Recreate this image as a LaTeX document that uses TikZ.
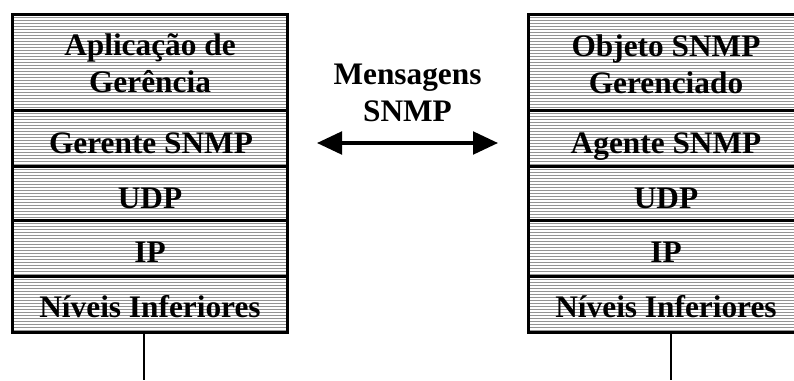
\documentclass[tikz,border=0pt]{standalone}
\usepackage{fontspec}
\setmainfont{Liberation Serif}
\usetikzlibrary{arrows.meta}
\tikzset{
  layerbox/.style={draw=black, line width=2.25pt, minimum width=206.25pt,
    inner sep=0pt, outer sep=0pt,
    path picture={
      \foreach \k in {1,...,33}{
        \draw[black!42, line width=0.75pt]
          ([yshift=-\k*2.25pt]path picture bounding box.north west) --
          ([yshift=-\k*2.25pt]path picture bounding box.north east);
      }
    }},
  tall/.style={minimum height=72pt},
  mid/.style={minimum height=42pt},
  low/.style={minimum height=40.5pt},
  lbl/.style={font=\bfseries\fontsize{23.5pt}{27.75pt}\selectfont, inner sep=0pt, align=center},
  tail/.style={line width=1.9pt},
  msgarrow/.style={line width=2.4pt, {Triangle[length=18.75pt,width=17pt]}-{Triangle[length=18.75pt,width=17pt]}}
}
\begin{document}
\begin{tikzpicture}[x=0.75pt,y=-0.75pt]
\useasboundingbox (0,0) rectangle (794,380);
\clip (0,0) rectangle (794,380);

% manager stack
\node[layerbox,tall] (m1) at (149.5,62) {};
\node[layerbox,mid]  (m2) at (149.5,138) {};
\node[layerbox,low]  (m3) at (149.5,193) {};
\node[layerbox,mid]  (m4) at (149.5,248) {};
\node[layerbox,mid]  (m5) at (149.5,304) {};
\node[lbl] (m1t) at (150,63) {Aplicação de\\Gerência};
\node[lbl,anchor=base] (m2t) at (151,153) {Gerente SNMP};
\node[lbl,anchor=base] (m3t) at (150,208) {UDP};
\node[lbl,anchor=base] (m4t) at (150,262) {IP};
\node[lbl,anchor=base] (m5t) at (150,317) {Níveis Inferiores};

% agent stack
\node[layerbox,tall] (a1) at (665.5,62) {};
\node[layerbox,mid]  (a2) at (665.5,138) {};
\node[layerbox,low]  (a3) at (665.5,193) {};
\node[layerbox,mid]  (a4) at (665.5,248) {};
\node[layerbox,mid]  (a5) at (665.5,304) {};
\node[lbl] (a1t) at (666,64) {Objeto SNMP\\Gerenciado};
\node[lbl,anchor=base] (a2t) at (666,153) {Agente SNMP};
\node[lbl,anchor=base] (a3t) at (666,208) {UDP};
\node[lbl,anchor=base] (a4t) at (666,262) {IP};
\node[lbl,anchor=base] (a5t) at (666,317) {Níveis Inferiores};

% message exchange
\node[lbl] (msg) at (407.5,93) {Mensagens\\SNMP};
\coordinate (pl) at (317,143);
\coordinate (pr) at (498,143);
\draw[msgarrow] (pl) -- (pr);

% links to the network
\coordinate (tl) at (144,380);
\coordinate (tr) at (671,380);
\draw[tail] (m5.south -| tl) -- (tl);
\draw[tail] (a5.south -| tr) -- (tr);
\end{tikzpicture}
\end{document}
